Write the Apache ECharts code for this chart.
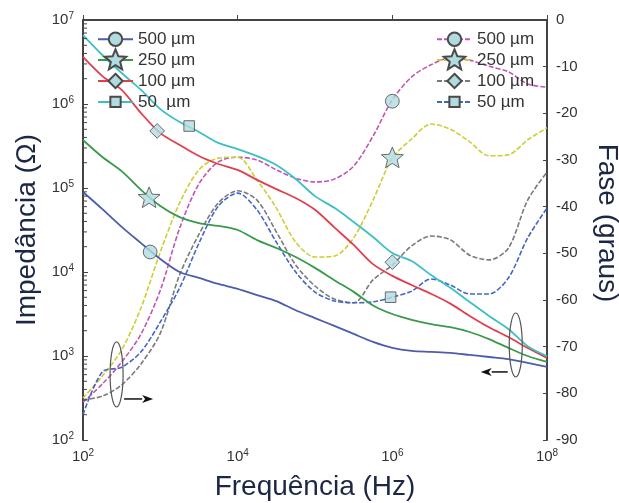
<!DOCTYPE html>
<html><head><meta charset="utf-8">
<script src="https://cdn.jsdelivr.net/npm/echarts@6/dist/echarts.min.js"></script>
<style>html,body{margin:0;padding:0;background:#fff}#c{width:619px;height:503px}</style>
</head><body><div id="c"></div>
<script>
// Frequencies (Hz), quarter-decade grid
const freq = [100, 178, 316, 562, 1000, 1778, 3162, 5623, 10000, 17783, 31623, 56234, 100000, 177828, 316228, 562341, 1000000, 1778279, 3162278, 5623413, 10000000, 17782794, 31622777, 56234133, 100000000];

// Impedance (Ohm)
const z500 = [89600, 56000, 34400, 22100, 14300, 10000, 8500, 7200, 6300, 5300, 4500, 3500, 2830, 2280, 1830, 1470, 1250, 1150, 1120, 1090, 1030, 973, 920, 826, 740];
const z250 = [373000, 234000, 159000, 95000, 61000, 45000, 38300, 35300, 31600, 24000, 19300, 15100, 11200, 8000, 5800, 4000, 3160, 2700, 2400, 2200, 1930, 1590, 1250, 1000, 850];
const z100 = [3630000, 2150000, 1470000, 780000, 450000, 325000, 240000, 193000, 164000, 125000, 97000, 76000, 55000, 34000, 21000, 12400, 9000, 7000, 5500, 4200, 3000, 2200, 1680, 1250, 950];
const z50 = [6620000, 3830000, 2340000, 1470000, 870000, 610000, 464000, 344000, 291000, 240000, 188000, 128000, 80000, 58000, 39400, 26100, 16800, 13500, 9200, 6500, 4400, 3000, 2100, 1310, 1000];

// Phase (degrees)
const p500 = [-81.9, -78.0, -73.3, -67.3, -57.9, -44.6, -35.1, -30.4, -29.4, -30.0, -32.1, -33.9, -34.7, -34.1, -31.3, -24.9, -17.1, -12.2, -9.6, -8.1, -8.6, -9.9, -11.1, -13.7, -14.4];
const p250 = [-81.0, -76.3, -70.7, -61.7, -49.7, -39.2, -32.1, -29.6, -29.4, -34.3, -40.3, -47.6, -50.8, -50.6, -46.7, -38.6, -29.6, -25.5, -22.3, -23.4, -26.1, -29.1, -28.9, -25.7, -23.1];
const p100 = [-81.4, -80.6, -78.2, -73.7, -67.1, -54.6, -45.9, -39.2, -36.6, -38.6, -45.4, -52.5, -57.0, -59.8, -60.6, -55.7, -52.5, -48.4, -46.3, -47.1, -50.4, -51.4, -48.9, -38.6, -32.6];
const p50 = [-84.6, -75.4, -74.4, -71.1, -64.7, -57.4, -47.8, -39.9, -37.1, -40.7, -47.6, -54.0, -58.3, -60.2, -60.6, -60.4, -59.4, -58.1, -55.5, -56.8, -58.7, -58.7, -55.3, -46.7, -40.3];

// Marker points [freq, value]
const impMarkers = [[738, 17300], [716, 76000], [910, 478000], [2360, 547000]];
const phaseMarkers = [[1000000, -17.4], [1000000, -29.6], [1000000, -51.9], [950000, -59.4]];

// Legend labels
const impLabels = ['500 µm', '250 µm', '100 µm', '50  µm'];
const phaseLabels = ['500 µm', '250 µm', '100 µm', '50 µm'];

// Minor tick values on the impedance axis
const minorTicks = [200,300,400,500,600,700,800,900,2000,3000,4000,5000,6000,7000,8000,9000,20000,30000,40000,50000,60000,70000,80000,90000,200000,300000,400000,500000,600000,700000,800000,900000,2000000,3000000,4000000,5000000,6000000,7000000,8000000,9000000];

// Annotations: ellipses [fCenter, zCenter, fLeft, fRight, zTop, zBottom]; arrows [fFrom, fTo, z]
const ellipses = [[267, 594, 224, 330, 1470, 247], [39400000, 1352, 32500000, 47900000, 3250, 562]];
const arrows = [[340, 807, 308], [31000000, 13900000, 646]];

const impColors = ['#4d5cad', '#3a9a4c', '#e0404e', '#3dbfc4'];
const phaseColors = ['#c056b4', '#cdcd36', '#7a7a7a', '#4565c4'];

const SYM = {
  circle: 'path://M0,0M100,100M80,50A30,30,0,1,1,20,50A30,30,0,1,1,80,50Z',
  star: 'path://M0,0M100,100M50,2L62.9,33L97.6,35.3L70.9,57.4L79.4,91.5L50,72.6L20.6,91.5L29.1,57.4L2.4,35.3L37.1,33Z',
  diamond: 'path://M0,0M100,100M50,18L82,50L50,82L18,50Z',
  square: 'path://M0,0M100,100M27,27L73,27L73,73L27,73Z'
};
const symOrder = [SYM.circle, SYM.star, SYM.diamond, SYM.square];
const markerStyle = {color: '#b2dbe0', borderColor: '#4a4a4a', borderWidth: 1};

const pair = arr => arr.map((v, i) => [freq[i], v]);

const impData = [z500, z250, z100, z50];
const phaseData = [p500, p250, p100, p50];

const series = [];
impData.forEach((d, i) => {
  series.push({
    name: 'Z' + i, type: 'line', xAxisIndex: 0, yAxisIndex: 0,
    data: pair(d), smooth: 0.3, symbol: symOrder[i], symbolKeepAspect: true, showSymbol: false,
    lineStyle: {color: impColors[i], width: 1.8}, itemStyle: markerStyle, z: 3
  });
});
phaseData.forEach((d, i) => {
  series.push({
    name: 'P' + i, type: 'line', xAxisIndex: 0, yAxisIndex: 1,
    data: pair(d), smooth: 0.3, symbol: symOrder[i], symbolKeepAspect: true, showSymbol: false,
    lineStyle: {color: phaseColors[i], width: 1.6, type: [5, 2]}, itemStyle: markerStyle, z: 2
  });
});
series.push({
  type: 'scatter', yAxisIndex: 0, symbolSize: 23, symbolKeepAspect: true, itemStyle: markerStyle, z: 5,
  data: impMarkers.map((m, i) => ({value: m, symbol: symOrder[i]}))
});
series.push({
  type: 'scatter', yAxisIndex: 1, symbolSize: 23, symbolKeepAspect: true, itemStyle: markerStyle, z: 5,
  data: phaseMarkers.map((m, i) => ({value: m, symbol: symOrder[i]}))
});
series.push({
  type: 'custom', yAxisIndex: 0, silent: true, z: 6,
  data: minorTicks.map(v => [100, v]),
  renderItem: (params, api) => {
    const p = api.coord([100, api.value(1)]);
    return {type: 'line', shape: {x1: p[0], y1: p[1], x2: p[0] + 4, y2: p[1]}, style: {stroke: '#444', lineWidth: 1}};
  }
});
series.push({
  type: 'custom', yAxisIndex: 0, silent: true, z: 6,
  data: ellipses,
  renderItem: (params, api) => {
    const l = api.coord([api.value(2), api.value(1)]);
    const r = api.coord([api.value(3), api.value(1)]);
    const t = api.coord([api.value(0), api.value(4)]);
    const b = api.coord([api.value(0), api.value(5)]);
    return {type: 'ellipse', shape: {cx: (l[0] + r[0]) / 2, cy: (t[1] + b[1]) / 2, rx: (r[0] - l[0]) / 2, ry: (b[1] - t[1]) / 2},
      style: {stroke: '#555', lineWidth: 1.2, fill: 'none'}};
  }
});
series.push({
  type: 'custom', yAxisIndex: 0, silent: true, z: 6,
  data: arrows,
  renderItem: (params, api) => {
    const a = api.coord([api.value(0), api.value(2)]);
    const b = api.coord([api.value(1), api.value(2)]);
    const dir = b[0] > a[0] ? 1 : -1;
    const hx = b[0] - dir * 11;
    return {type: 'group', children: [
      {type: 'line', shape: {x1: a[0], y1: a[1], x2: hx, y2: b[1]}, style: {stroke: '#111', lineWidth: 1.5}},
      {type: 'polygon', shape: {points: [[b[0], b[1]], [hx, b[1] - 4], [hx + dir * 3, b[1]], [hx, b[1] + 4]]}, style: {fill: '#111'}}
    ]};
  }
});

const supLabel = v => '{b|10}{e|' + Math.round(Math.log10(v)) + '}';
const rich = {b: {fontSize: 15, color: '#333', fontFamily: 'Liberation Sans'}, e: {fontSize: 10, color: '#333', fontFamily: 'Liberation Sans', padding: [0, 0, 8, 0]}};
const axisLine = {show: true, lineStyle: {color: '#444', width: 2}};
const titleStyle = {fontSize: 28, color: '#1b2744', fontFamily: 'Liberation Sans'};

const legendBase = {
  orient: 'vertical', top: 22, itemWidth: 35, itemHeight: 28, itemGap: -3.5,
  textStyle: {fontSize: 17, color: '#333', fontFamily: 'Liberation Sans'},
  selectedMode: false
};

const chart = echarts.init(document.getElementById('c'), null, {renderer: 'canvas'});
chart.setOption({
  animation: false,
  backgroundColor: '#fff',
  grid: {left: 83, right: 72, top: 20, bottom: 63, outerBoundsMode: 'none', containLabel: false},
  legend: [
    Object.assign({}, legendBase, {left: 92, data: ['Z0', 'Z1', 'Z2', 'Z3'], formatter: n => impLabels[+n.slice(1)]}),
    Object.assign({}, legendBase, {left: 431, data: ['P0', 'P1', 'P2', 'P3'], formatter: n => phaseLabels[+n.slice(1)]})
  ],
  xAxis: {
    type: 'log', min: 100, max: 100000000, interval: 2,
    name: 'Frequência (Hz)', nameLocation: 'middle', nameGap: 33, nameTextStyle: titleStyle,
    axisLine: axisLine, axisTick: {inside: true, length: 5, lineStyle: {color: '#444'}},
    axisLabel: {formatter: supLabel, rich: rich, margin: 8},
    splitLine: {show: false}
  },
  yAxis: [
    {
      type: 'log', min: 100, max: 10000000, interval: 1, position: 'left',
      name: 'Impedância (Ω)', nameLocation: 'middle', nameGap: 39, nameTextStyle: titleStyle,
      axisLine: axisLine, axisTick: {inside: true, length: 5, lineStyle: {color: '#444'}},
      axisLabel: {formatter: supLabel, rich: rich, margin: 9},
      splitLine: {show: false}
    },
    {
      type: 'value', min: -90, max: 0, interval: 10, position: 'right',
      name: 'Fase (graus)', nameLocation: 'middle', nameGap: 46, nameRotate: -90,
      nameTextStyle: Object.assign({}, titleStyle, {padding: [0, 14, 0, 0]}),
      axisLine: axisLine, axisTick: {inside: true, length: 4, lineStyle: {color: '#444'}},
      axisLabel: {fontSize: 15, color: '#333', fontFamily: 'Liberation Sans', margin: 9},
      splitLine: {show: false}
    }
  ],
  series: series
});
</script></body></html>
